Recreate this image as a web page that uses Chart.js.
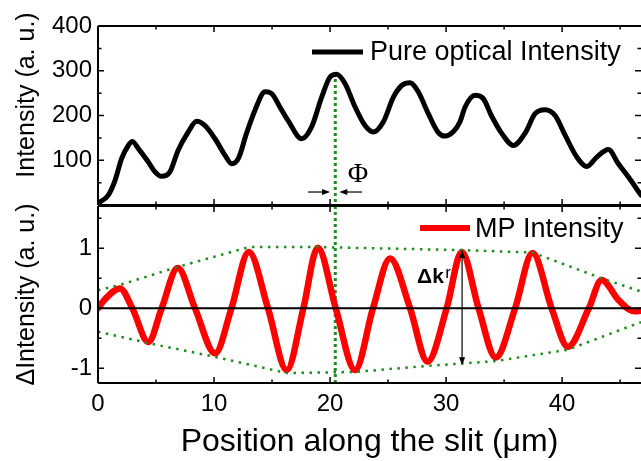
<!DOCTYPE html>
<html>
<head>
<meta charset="utf-8">
<script src="https://cdn.jsdelivr.net/npm/chart.js@4.4.0/dist/chart.umd.min.js"></script>
<style>
  html, body { margin: 0; padding: 0; background: #fff; }
  #wrap { position: relative; width: 641px; height: 461px; overflow: hidden; }
  .box { position: absolute; left: 0; width: 641px; }
</style>
</head>
<body>
<div id="wrap">
  <div class="box" style="top:0;height:206px"><canvas id="topChart"></canvas></div>
  <div class="box" style="top:205px;height:256px"><canvas id="botChart"></canvas></div>
</div>
<script>
// ---- data ----
const xMin = 0, xMax = 46.8;
const xTicks = [0, 10, 20, 30, 40];
const xMinor = [5, 15, 25, 35, 45];
const topYTicks = [100, 200, 300, 400];
const topYMinor = [50, 150, 250, 350];
const botYTicks = [-1, 0, 1];
const botYMinor = [-0.5, 0.5, 1.5];

// Pure optical intensity
const opticalX = [0, 0.17, 0.89, 1.47, 2.04, 2.61, 2.96, 3.48, 4.34, 4.91, 5.49, 6.2, 6.9, 7.77, 8.5, 9.2,
  10.09, 10.95, 11.53, 12.1, 12.8, 13.53, 14.4, 14.97, 15.7, 16.4, 17.56, 18.4, 19.28, 20.0, 20.57,
  21.3, 22.16, 23.0, 23.73, 24.6, 25.46, 26.18, 26.9, 27.6, 28.47, 29.3, 29.9, 30.6, 31.2, 31.64, 32.5,
  33.2, 33.9, 34.8, 35.8, 36.8, 37.67, 38.53, 39.4, 40.26, 41.27, 42.13, 42.99, 43.99, 44.85, 45.7, 46.8];
const opticalY = [6, 7, 22, 55, 104, 133, 142, 126, 96, 74, 64, 74, 122, 163, 187, 178,
  148, 111, 92, 104, 160, 212, 253, 249, 218, 188, 148, 174, 241, 286, 292,
  271, 219, 178, 163, 186, 241, 267, 273, 253, 204, 163, 154, 163, 186, 219, 245,
  238, 200, 160, 133, 160, 204, 213, 200, 156, 107, 86, 107, 124, 92, 63, 22];

// MP intensity (difference signal)
const mpX = [0, 0.6, 1.9, 2.96, 4.34, 5.49, 6.87, 8.36, 10.09, 11.5, 13.0, 14.65, 16.27, 17.7, 18.94,
  20.49, 22.16, 23.7, 25.17, 26.9, 28.4, 30.05, 31.35, 32.8, 34.28, 35.95, 37.45, 39.1, 40.5, 42.3,
  43.4, 44.85, 45.7, 46.3, 46.8];
const mpY = [0, 0.15, 0.33, 0, -0.56, 0, 0.67, 0, -0.75, 0, 0.94, 0, -1.03, 0, 1.01,
  0, -1.03, 0, 0.83, 0, -0.89, 0, 0.94, 0, -0.82, 0, 0.92, 0, -0.64, 0,
  0.47, 0.14, -0.01, -0.05, -0.04];

// dotted envelopes
const envUpX = [0, 1.9, 6.87, 13.0, 18.94, 31.35, 37.45, 43.4, 46.8];
const envUpY = [0.3, 0.39, 0.69, 1.02, 1.02, 0.97, 0.93, 0.5, 0.28];
const envLoX = [0, 4.34, 10.09, 16.27, 22.16, 28.4, 34.28, 40.5, 46.8];
const envLoY = [-0.39, -0.58, -0.81, -1.08, -1.06, -0.96, -0.88, -0.69, -0.23];

// vertical phase marker
const phiX = 20.45;
const phiTopY = [295, 0];
const phiBotY = [1.705, -1.245];

const pts = (xs, ys) => xs.map((x, i) => ({ x, y: ys[i] }));
const GREEN = '#1e8c1e';
const FONT = "'Liberation Sans', Arial, sans-serif";
Chart.defaults.font.family = FONT;
Chart.defaults.color = '#000';

function arrow(ctx, x1, y1, x2, y2, len, half) {
  const a = Math.atan2(y2 - y1, x2 - x1), c = Math.cos(a), s = Math.sin(a);
  ctx.beginPath();
  ctx.moveTo(x1, y1);
  ctx.lineTo(x2 - c * len * 0.8, y2 - s * len * 0.8);
  ctx.stroke();
  ctx.beginPath();
  ctx.moveTo(x2, y2);
  ctx.lineTo(x2 - c * len + s * half, y2 - s * len - c * half);
  ctx.lineTo(x2 - c * len - s * half, y2 - s * len + c * half);
  ctx.closePath();
  ctx.fill();
}

// frame with inward ticks on every side
function drawFrame(chart, yMajor, yMinor) {
  const { ctx, chartArea: a, scales: { x, y } } = chart;
  ctx.save();
  ctx.strokeStyle = '#000';
  ctx.lineWidth = 2;
  ctx.beginPath();
  ctx.moveTo(a.left, a.top); ctx.lineTo(a.right, a.top);
  ctx.moveTo(a.left, a.top); ctx.lineTo(a.left, a.bottom);
  ctx.moveTo(a.left, a.bottom); ctx.lineTo(a.right, a.bottom);
  ctx.stroke();
  ctx.lineWidth = 1.5;
  ctx.beginPath();
  const xt = (vals, len) => vals.forEach(v => {
    const p = x.getPixelForValue(v);
    ctx.moveTo(p, a.top); ctx.lineTo(p, a.top + len);
    ctx.moveTo(p, a.bottom); ctx.lineTo(p, a.bottom - len);
  });
  const yt = (vals, len) => vals.forEach(v => {
    const p = y.getPixelForValue(v);
    if (p < a.top - 0.5 || p > a.bottom + 0.5) return;
    ctx.moveTo(a.left, p); ctx.lineTo(a.left + len, p);
    ctx.moveTo(a.right, p); ctx.lineTo(a.right - len, p);
  });
  xt(xTicks, 6); xt(xMinor, 3.5);
  yt(yMajor, 6); yt(yMinor, 3.5);
  ctx.stroke();
  ctx.restore();
}

const topDecor = {
  id: 'topDecor',
  afterDatasetsDraw(chart) {
    const { ctx, scales: { x, y } } = chart;
    drawFrame(chart, topYTicks, topYMinor);
    ctx.save();
    // y title
    ctx.fillStyle = '#000';
    ctx.font = `25px ${FONT}`;
    ctx.textAlign = 'center';
    ctx.textBaseline = 'middle';
    ctx.translate(27, 95);
    ctx.rotate(-Math.PI / 2);
    ctx.fillText('Intensity (a. u.)', 0, 0);
    ctx.restore();
    ctx.save();
    // legend
    ctx.strokeStyle = '#000';
    ctx.lineWidth = 5;
    ctx.beginPath(); ctx.moveTo(312, 52); ctx.lineTo(363, 52); ctx.stroke();
    ctx.font = `27px ${FONT}`;
    ctx.textBaseline = 'alphabetic';
    ctx.fillText('Pure optical Intensity', 370, 60);
    // phase arrows and label
    ctx.lineWidth = 1.2;
    ctx.fillStyle = '#000';
    const ay = y.getPixelForValue(29);
    arrow(ctx, x.getPixelForValue(18.1), ay, x.getPixelForValue(20.0), ay, 8, 3);
    arrow(ctx, x.getPixelForValue(22.76), ay, x.getPixelForValue(20.8), ay, 8, 3);
    ctx.font = "28px 'Liberation Serif', 'Times New Roman', serif";
    ctx.textAlign = 'center';
    ctx.fillText('\u03A6', x.getPixelForValue(22.4), y.getPixelForValue(52));
    ctx.restore();
  }
};

const botDecor = {
  id: 'botDecor',
  afterDatasetsDraw(chart) {
    const { ctx, scales: { x, y } } = chart;
    drawFrame(chart, botYTicks, botYMinor);
    ctx.save();
    ctx.fillStyle = '#000';
    ctx.strokeStyle = '#ff0000';
    ctx.lineWidth = 6;
    ctx.beginPath(); ctx.moveTo(420, 23); ctx.lineTo(470, 23); ctx.stroke();
    ctx.font = `27px ${FONT}`;
    ctx.fillText('MP Intensity', 475, 31.7);
    // delta k arrow
    ctx.strokeStyle = '#000';
    ctx.lineWidth = 1.2;
    const ax = x.getPixelForValue(31.38);
    const y1 = y.getPixelForValue(0.97), y2 = y.getPixelForValue(-0.95);
    const mid = (y1 + y2) / 2;
    arrow(ctx, ax, mid, ax, y1, 8, 3);
    arrow(ctx, ax, mid, ax, y2, 8, 3);
    ctx.font = `bold 21px ${FONT}`;
    ctx.fillText('\u0394k', x.getPixelForValue(27.5), y.getPixelForValue(0.42));
    ctx.font = `17px ${FONT}`;
    ctx.fillText('r', x.getPixelForValue(29.92), y.getPixelForValue(0.5));
    ctx.restore();
  }
};

const noPad = s => { s.paddingTop = 0; s.paddingBottom = 0; };

new Chart(document.getElementById('topChart'), {
  type: 'line',
  data: {
    datasets: [
      { data: pts(opticalX, opticalY), borderColor: '#000', borderWidth: 5, pointRadius: 0,
        cubicInterpolationMode: 'monotone', borderJoinStyle: 'round', borderCapStyle: 'round' },
      { data: pts([phiX, phiX], phiTopY), borderColor: GREEN, borderWidth: 3, borderDash: [3, 3],
        pointRadius: 0 }
    ]
  },
  options: {
    responsive: true, maintainAspectRatio: false, animation: false, events: [],
    layout: { padding: { top: 26, bottom: 1, left: 0, right: 0 } },
    plugins: { legend: { display: false }, tooltip: { enabled: false } },
    scales: {
      x: { type: 'linear', display: false, min: xMin, max: xMax },
      y: {
        min: 0, max: 400,
        afterBuildTicks: s => { s.ticks = topYTicks.map(v => ({ value: v })); },
        afterFit: s => { s.width = 98; noPad(s); },
        grid: { display: false, drawTicks: false },
        border: { display: false },
        ticks: { padding: 6, font: { size: 24 }, color: '#000' }
      }
    }
  },
  plugins: [topDecor]
});

new Chart(document.getElementById('botChart'), {
  type: 'line',
  data: {
    datasets: [
      { data: pts([xMin, xMax], [0, 0]), borderColor: '#000', borderWidth: 2, pointRadius: 0 },
      { data: pts(envUpX, envUpY), borderColor: GREEN, borderWidth: 2.5, borderDash: [2.5, 5.5], pointRadius: 0 },
      { data: pts(envLoX, envLoY), borderColor: GREEN, borderWidth: 2.5, borderDash: [2.5, 5.5], pointRadius: 0 },
      { data: pts(mpX, mpY), borderColor: '#ff0000', borderWidth: 6.5, pointRadius: 0,
        cubicInterpolationMode: 'monotone', borderJoinStyle: 'round', borderCapStyle: 'round' },
      { data: pts([phiX, phiX], phiBotY), borderColor: GREEN, borderWidth: 3, borderDash: [3, 3],
        pointRadius: 0 }
    ]
  },
  options: {
    responsive: true, maintainAspectRatio: false, animation: false, events: [],
    layout: { padding: { top: 1, bottom: 0, left: 0, right: 0 } },
    plugins: { legend: { display: false }, tooltip: { enabled: false } },
    scales: {
      x: {
        type: 'linear', min: xMin, max: xMax,
        afterBuildTicks: s => { s.ticks = xTicks.map(v => ({ value: v })); },
        afterFit: s => { s.height = 78; },
        grid: { display: false, drawTicks: false },
        border: { display: false },
        ticks: { padding: 7, font: { size: 24 }, color: '#000', maxRotation: 0 },
        title: { display: true, text: 'Position along the slit (\u03BCm)', font: { size: 32 },
          color: '#000', padding: { top: 0, bottom: 0 } }
      },
      y: {
        min: -1.245, max: 1.705,
        afterBuildTicks: s => { s.ticks = botYTicks.map(v => ({ value: v })); },
        afterFit: s => { s.width = 98; noPad(s); },
        grid: { display: false, drawTicks: false },
        border: { display: false },
        ticks: { padding: 6, font: { size: 24 }, color: '#000' },
        title: { display: true, text: '\u0394Intensity (a. u.)', font: { size: 25 },
          color: '#000', padding: { top: 12, bottom: 0 } }
      }
    }
  },
  plugins: [botDecor]
});
</script>
</body>
</html>
